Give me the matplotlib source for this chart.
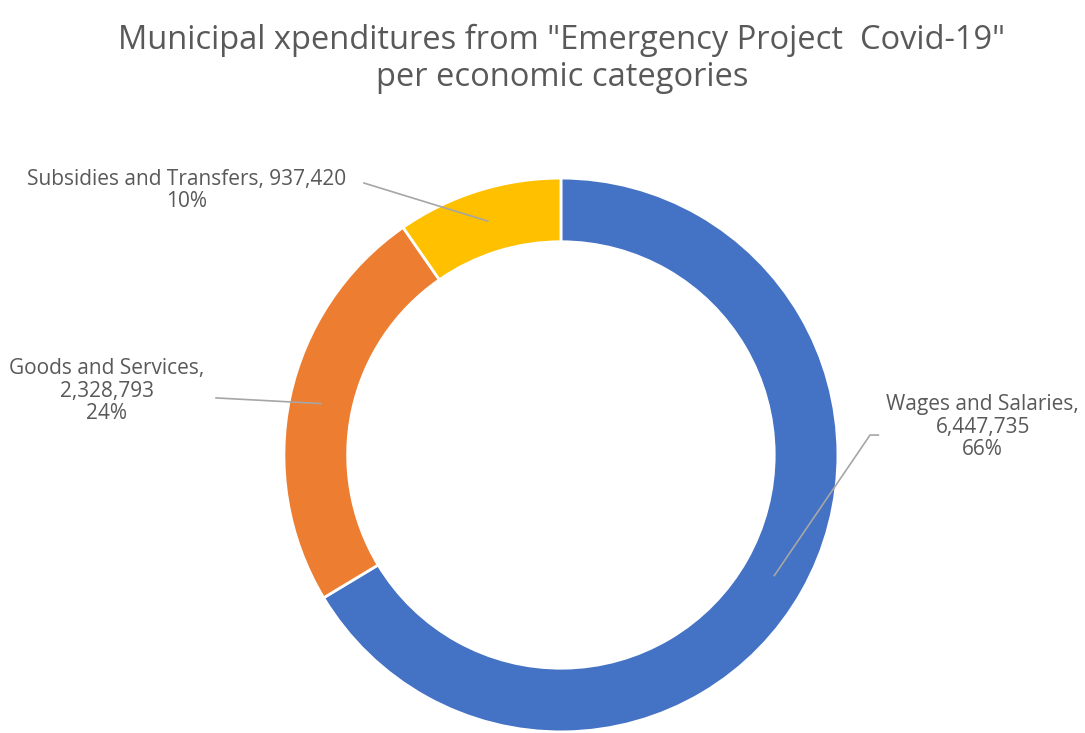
import numpy as np
import matplotlib
matplotlib.use("Agg")
import matplotlib.pyplot as plt

# Expenditure per economic category
categories = ["Wages and Salaries", "Goods and Services", "Subsidies and Transfers"]
amounts = [6447735, 2328793, 937420]
colors = ["#4472C4", "#ED7D31", "#FFC000"]

# label text placement (data units, ring radius = 1) and leader line start
label_xy = [(1.523, 0.10), (-1.639, 0.23), (-1.35, 0.955)]
line_start = [(1.116, 0.072), (-1.245, 0.206), (-0.711, 0.982)]
label_breaks = ["\n", "\n", " "]

plt.rcParams["font.family"] = ["Open Sans", "DejaVu Sans"]
text_color = "#595959"

fig = plt.figure(figsize=(10.85, 7.33), dpi=100)
ax = fig.add_axes([0, 0, 1, 1])

wedges, _ = ax.pie(amounts, colors=colors, startangle=90, counterclock=False,
                   radius=1.0, wedgeprops=dict(width=0.23, edgecolor="white", linewidth=2))

ax.set_xlim(-2.025, 1.892)
ax.set_ylim(-1.004, 1.643)
ax.set_aspect("auto")
ax.axis("off")

total = sum(amounts)
for i, w in enumerate(wedges):
    pct = amounts[i] / total * 100
    mid = np.deg2rad((w.theta1 + w.theta2) / 2)
    end = (0.885 * np.cos(mid), 0.885 * np.sin(mid))
    sx, sy = line_start[i]
    if i == 0:
        # small horizontal tick before the diagonal
        ax.plot([sx + 0.03, sx, end[0]], [sy, sy, end[1]], color="#A6A6A6", lw=1.2)
    else:
        ax.plot([sx, end[0]], [sy, end[1]], color="#A6A6A6", lw=1.2)
    label = f"{categories[i]},{label_breaks[i]}{amounts[i]:,}\n{pct:.0f}%"
    ax.text(label_xy[i][0], label_xy[i][1], label, ha="center", va="center",
            fontsize=15, color=text_color, linespacing=1.1)

fig.text(0.518, 1 - 40 / 733, "Municipal xpenditures from \"Emergency Project  Covid-19\"",
         ha="center", va="center", fontsize=23.5, color=text_color)
fig.text(0.518, 1 - 77 / 733, "per economic categories",
         ha="center", va="center", fontsize=23.5, color=text_color)

fig.savefig("out.png", dpi=100, facecolor="white")
